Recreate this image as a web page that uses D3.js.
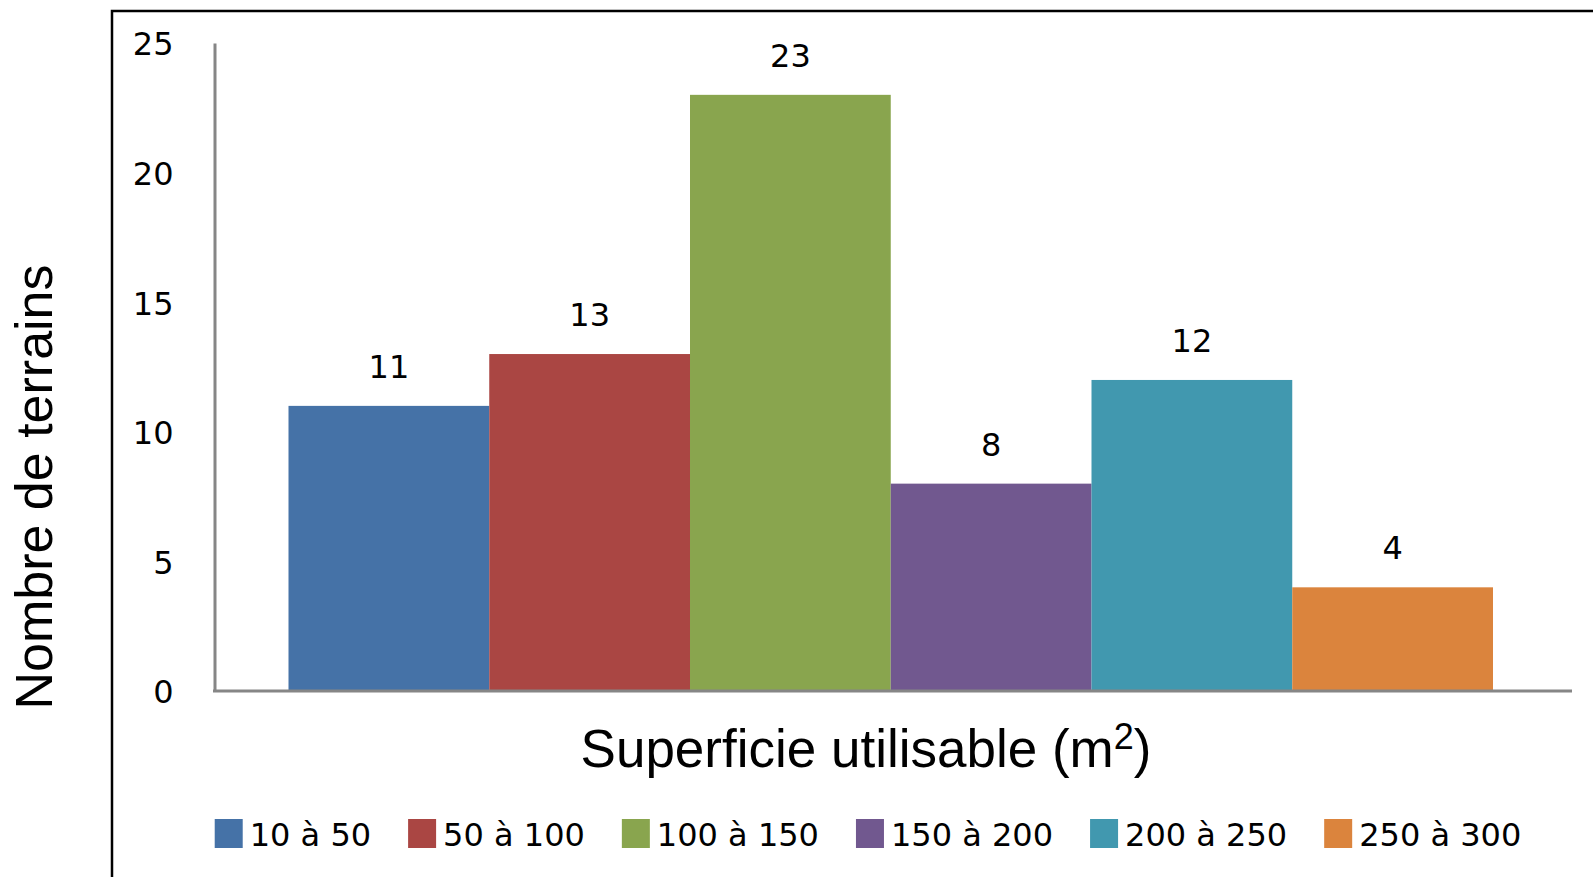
<!DOCTYPE html>
<html>
<head>
<meta charset="utf-8">
<script src="https://cdn.jsdelivr.net/npm/d3@7"></script>
<style>
  html, body { margin: 0; padding: 0; background: #ffffff; }
  svg { display: block; }
</style>
</head>
<body>
<svg id="chart" width="1593" height="877"></svg>
<script>
// Surface classes (m²) and the number of plots in each class
const categories = ["10 à 50", "50 à 100", "100 à 150", "150 à 200", "200 à 250", "250 à 300"];
const counts = [11, 13, 23, 8, 12, 4];
const colors = ["#4572A7", "#AA4643", "#89A54E", "#71588F", "#4198AF", "#DB843D"];
const yTicks = [0, 5, 10, 15, 20, 25];
const yTitle = "Nombre de terrains";
const xTitle = "Superficie utilisable (m";
const xTitleSup = "2";

const svg = d3.select("#chart");
const W = 1593, H = 877;

const plot = { left: 214.5, right: 1572, top: 43, bottom: 691 };
const groupPadLeft = 74, groupPadRight = 79; // gaps between the axis ends and the block of bars

const labelFont = "'DejaVu Sans', Verdana, sans-serif";
const titleFont = "'Liberation Sans', Arial, sans-serif";

// Chart-area frame (runs off the right and bottom edges)
svg.append("rect")
  .attr("x", 112).attr("y", 11)
  .attr("width", W + 20).attr("height", H + 20)
  .attr("fill", "none").attr("stroke", "#000").attr("stroke-width", 2.5);

const y = d3.scaleLinear().domain([0, 25]).range([plot.bottom, plot.top]);
const x = d3.scaleBand()
  .domain(categories)
  .range([plot.left + groupPadLeft, plot.right - groupPadRight])
  .padding(0);

// Bars
svg.append("g").selectAll("rect")
  .data(categories)
  .join("rect")
  .attr("x", d => x(d))
  .attr("width", x.bandwidth())
  .attr("y", (d, i) => y(counts[i]))
  .attr("height", (d, i) => y(0) - y(counts[i]))
  .attr("fill", (d, i) => colors[i]);

// Value labels
svg.append("g").selectAll("text")
  .data(categories)
  .join("text")
  .attr("x", d => x(d) + x.bandwidth() / 2)
  .attr("y", (d, i) => y(counts[i]) - 28)
  .attr("text-anchor", "middle")
  .attr("font-family", labelFont)
  .attr("font-size", 32)
  .attr("fill", "#000")
  .text((d, i) => counts[i]);

// Y axis
const yAxis = d3.axisLeft(y)
  .tickValues(yTicks)
  .tickSize(0)
  .tickSizeOuter(0)
  .tickPadding(41);
const gy = svg.append("g")
  .attr("transform", `translate(${plot.left},0)`)
  .call(yAxis);
gy.select(".domain").attr("stroke", "#868686").attr("stroke-width", 3);
gy.selectAll(".tick text")
  .attr("font-family", labelFont)
  .attr("font-size", 32)
  .attr("fill", "#000")
  .attr("dy", "0.37em");

// Category axis baseline
svg.append("line")
  .attr("x1", plot.left - 1.5).attr("x2", plot.right)
  .attr("y1", y(0)).attr("y2", y(0))
  .attr("stroke", "#868686").attr("stroke-width", 3);

// Axis titles
svg.append("text")
  .attr("transform", `translate(52,487) rotate(-90)`)
  .attr("text-anchor", "middle")
  .attr("font-family", titleFont)
  .attr("font-size", 52)
  .attr("fill", "#000")
  .text(yTitle);

const xt = svg.append("text")
  .attr("x", 866).attr("y", 767)
  .attr("text-anchor", "middle")
  .attr("font-family", titleFont)
  .attr("font-size", 53)
  .attr("fill", "#000");
xt.append("tspan").text(xTitle);
xt.append("tspan").attr("font-size", 36).attr("dy", -18).text(xTitleSup);
xt.append("tspan").attr("dy", 18).text(")");

// Legend
const legend = svg.append("g");
const sw = 28, textGap = 7, itemGap = 37;
let cursor = 0;
categories.forEach((c, i) => {
  const g = legend.append("g").attr("transform", `translate(${cursor},0)`);
  g.append("rect")
    .attr("x", 0).attr("y", 819)
    .attr("width", sw).attr("height", 29)
    .attr("fill", colors[i]);
  const t = g.append("text")
    .attr("x", sw + textGap).attr("y", 846)
    .attr("font-family", labelFont)
    .attr("font-size", 32)
    .attr("fill", "#000")
    .text(c);
  cursor += sw + textGap + t.node().getComputedTextLength() + itemGap;
});
const legendWidth = cursor - itemGap;
legend.attr("transform", `translate(${868 - legendWidth / 2},0)`);
</script>
</body>
</html>
